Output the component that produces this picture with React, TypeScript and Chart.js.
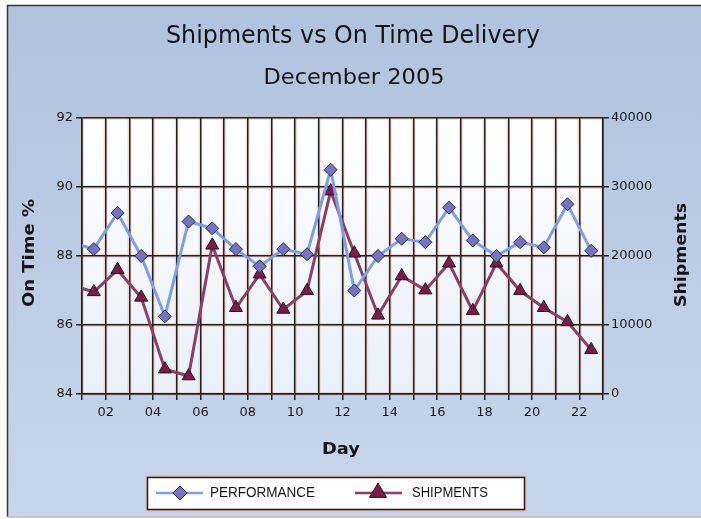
import React, { useEffect, useRef } from 'react';
import { Chart, registerables } from 'chart.js';

Chart.register(...registerables);

// Data (day 0 = 30 Nov, its segment enters from the left edge and is clipped)
const days = [0, 1, 2, 3, 4, 5, 6, 7, 8, 9, 10, 11, 12, 13, 14, 15, 16, 17, 18, 19, 20, 21, 22];
const performance = [88.4, 88.2, 89.25, 88.0, 86.25, 89.0, 88.8, 88.2, 87.7, 88.2, 88.05, 90.5, 87.0, 88.0, 88.5, 88.4, 89.4, 88.45, 88.0, 88.4, 88.25, 89.5, 88.15];
const shipments = [15800, 14800, 18000, 14000, 3600, 2600, 21550, 12500, 17350, 12250, 14950, 29400, 20400, 11400, 17100, 15050, 18950, 12050, 18950, 14950, 12500, 10450, 6400];
const labeledDays = [2, 4, 6, 8, 10, 12, 14, 16, 18, 20, 22];
const leftTicks = [84, 86, 88, 90, 92];
const rightTicks = [0, 10000, 20000, 30000, 40000];

const TITLE = 'Shipments vs On Time Delivery';
const SUBTITLE = 'December 2005';
const X_TITLE = 'Day';
const Y_TITLE = 'On Time %';
const Y2_TITLE = 'Shipments';
const SERIES_PERF = 'PERFORMANCE';
const SERIES_SHIP = 'SHIPMENTS';

const W = 701;
const H = 519;
const GRID = '#1c2222';
const BLUE_LINE = '#7f9fe4';
const DIAMOND = '#7673bf';
const MAROON_LINE = '#8b3f66';
const TRIANGLE = '#781c4a';

function fitText(ctx: CanvasRenderingContext2D, text: string, x: number, y: number, font: string, width: number, align: CanvasTextAlign = 'center', rot = 0, color = '#151515') {
  ctx.save();
  ctx.font = font;
  const w = ctx.measureText(text).width;
  ctx.translate(x, y);
  ctx.rotate(rot);
  ctx.scale(width / w, 1);
  ctx.textAlign = align;
  ctx.textBaseline = 'middle';
  ctx.fillStyle = color;
  ctx.fillText(text, 0, 0);
  ctx.restore();
}

function drawDiamond(ctx: CanvasRenderingContext2D, x: number, y: number, r: number) {
  ctx.beginPath();
  ctx.moveTo(x, y - r);
  ctx.lineTo(x + r, y);
  ctx.lineTo(x, y + r);
  ctx.lineTo(x - r, y);
  ctx.closePath();
  ctx.fillStyle = DIAMOND;
  ctx.fill();
  ctx.strokeStyle = '#2a2a48';
  ctx.lineWidth = 1;
  ctx.stroke();
}

function drawTriangle(ctx: CanvasRenderingContext2D, x: number, y: number, r: number) {
  ctx.beginPath();
  ctx.moveTo(x, y - r);
  ctx.lineTo(x + r * 0.95, y + r * 0.6);
  ctx.lineTo(x - r * 0.95, y + r * 0.6);
  ctx.closePath();
  ctx.fillStyle = TRIANGLE;
  ctx.fill();
  ctx.strokeStyle = '#2a0f1e';
  ctx.lineWidth = 1;
  ctx.stroke();
}

const decorPlugin = {
  id: 'decor',
  beforeDraw(chart: any) {
    const ctx: CanvasRenderingContext2D = chart.ctx;
    const { left, right, top, bottom } = chart.chartArea;
    ctx.save();
    ctx.fillStyle = '#ffffff';
    ctx.fillRect(0, 0, W, H);
    const g = ctx.createLinearGradient(0, 5, 0, 517);
    g.addColorStop(0, '#b0c3de');
    g.addColorStop(1, '#c7d6ea');
    ctx.fillStyle = g;
    ctx.fillRect(7, 5, W - 7, 512);
    ctx.strokeStyle = '#3a3434';
    ctx.lineWidth = 1.5;
    ctx.beginPath();
    ctx.moveTo(7.5, 517);
    ctx.lineTo(7.5, 5.5);
    ctx.lineTo(W, 5.5);
    ctx.stroke();
    ctx.strokeStyle = '#d6aeb0';
    ctx.beginPath();
    ctx.moveTo(7, 517);
    ctx.lineTo(W, 517);
    ctx.stroke();

    const pg = ctx.createLinearGradient(0, top, 0, bottom);
    pg.addColorStop(0, '#ffffff');
    pg.addColorStop(1, '#eaf0f8');
    ctx.fillStyle = pg;
    ctx.fillRect(left, top, right - left, bottom - top);

    // soft pink halo around grid lines
    ctx.strokeStyle = 'rgba(236,180,170,0.45)';
    ctx.lineWidth = 4;
    const xs = chart.scales.x;
    xs.ticks.forEach((t: any) => {
      const px = xs.getPixelForValue(t.value);
      ctx.beginPath();
      ctx.moveTo(px, top);
      ctx.lineTo(px, bottom);
      ctx.stroke();
    });
    const ys = chart.scales.y;
    ys.ticks.forEach((t: any) => {
      const py = ys.getPixelForValue(t.value);
      ctx.beginPath();
      ctx.moveTo(left, py);
      ctx.lineTo(right, py);
      ctx.stroke();
    });
    ctx.restore();
  },
  afterDraw(chart: any) {
    const ctx: CanvasRenderingContext2D = chart.ctx;
    ctx.save();
    fitText(ctx, TITLE, 353, 36, '25px "DejaVu Sans"', 374);
    fitText(ctx, SUBTITLE, 354, 79, '21px "DejaVu Sans"', 181);
    fitText(ctx, X_TITLE, 341, 450, 'bold 16px "DejaVu Sans"', 38);
    fitText(ctx, Y_TITLE, 30, 253, 'bold 16px "DejaVu Sans"', 108, 'center', -Math.PI / 2);
    fitText(ctx, Y2_TITLE, 682, 255, 'bold 16px "DejaVu Sans"', 104, 'center', -Math.PI / 2);

    // legend
    ctx.strokeStyle = 'rgba(236,180,170,0.8)';
    ctx.lineWidth = 4;
    ctx.strokeRect(147.5, 477.5, 377, 32);
    ctx.fillStyle = '#ffffff';
    ctx.fillRect(147.5, 477.5, 377, 32);
    ctx.strokeStyle = '#1e1e1e';
    ctx.lineWidth = 1.5;
    ctx.strokeRect(147.5, 477.5, 377, 32);
    const ly = 493;
    ctx.lineWidth = 2.5;
    ctx.strokeStyle = BLUE_LINE;
    ctx.beginPath();
    ctx.moveTo(156, ly);
    ctx.lineTo(203, ly);
    ctx.stroke();
    drawDiamond(ctx, 180, ly, 7);
    fitText(ctx, SERIES_PERF, 210, ly, '15px "Liberation Sans"', 105, 'left');
    ctx.lineWidth = 2.5;
    ctx.strokeStyle = MAROON_LINE;
    ctx.beginPath();
    ctx.moveTo(355, ly);
    ctx.lineTo(402, ly);
    ctx.stroke();
    drawTriangle(ctx, 378, ly - 1, 9);
    fitText(ctx, SERIES_SHIP, 412, ly, '15px "Liberation Sans"', 76, 'left');
    ctx.restore();
  },
};

export default function App() {
  const ref = useRef<HTMLCanvasElement | null>(null);
  useEffect(() => {
    if (!ref.current) return;
    const tickFont = { family: '"DejaVu Sans"', size: 13 };
    const chart = new Chart(ref.current, {
      type: 'line',
      data: {
        datasets: [
          {
            label: SERIES_PERF,
            data: days.map((d, i) => ({ x: d + 0.5, y: performance[i] })),
            yAxisID: 'y',
            borderColor: BLUE_LINE,
            borderWidth: 3,
            pointStyle: 'rectRot',
            pointRadius: 6.5,
            pointBackgroundColor: DIAMOND,
            pointBorderColor: '#2a2a48',
            pointBorderWidth: 1,
            tension: 0,
          },
          {
            label: SERIES_SHIP,
            data: days.map((d, i) => ({ x: d + 0.5, y: shipments[i] })),
            yAxisID: 'y2',
            borderColor: MAROON_LINE,
            borderWidth: 3,
            pointStyle: 'triangle',
            pointRadius: 7.5,
            pointBackgroundColor: TRIANGLE,
            pointBorderColor: '#2a0f1e',
            pointBorderWidth: 1,
            tension: 0,
          },
        ],
      },
      options: {
        responsive: false,
        animation: false,
        events: [],
        layout: { padding: { top: 118, left: 0, right: 0, bottom: 0 } },
        plugins: { legend: { display: false }, title: { display: false }, tooltip: { enabled: false } },
        scales: {
          x: {
            type: 'linear',
            position: 'bottom',
            min: 1,
            max: 23,
            afterFit: (s: any) => { s.height = 125; },
            afterBuildTicks: (s: any) => {
              const t = [];
              for (let v = 1; v <= 23; v++) t.push({ value: v });
              s.ticks = t;
            },
            ticks: {
              autoSkip: false,
              maxRotation: 0,
              padding: 5,
              font: tickFont,
              color: '#1a1a1a',
              callback: (v: any) => (labeledDays.includes(v) ? String(v).padStart(2, '0') : ''),
            },
            grid: { color: GRID, lineWidth: 1.5, tickLength: 6 },
            border: { color: GRID, width: 1.5 },
          },
          y: {
            position: 'left',
            min: 84,
            max: 92,
            afterFit: (s: any) => { s.width = 82; },
            afterBuildTicks: (s: any) => { s.ticks = leftTicks.map((v) => ({ value: v })); },
            ticks: { padding: 3, font: tickFont, color: '#1a1a1a', callback: (v: any) => String(v) },
            grid: { color: GRID, lineWidth: 1.5, tickLength: 6 },
            border: { color: GRID, width: 1.5 },
          },
          y2: {
            position: 'right',
            min: 0,
            max: 40000,
            afterFit: (s: any) => { s.width = 98; },
            afterBuildTicks: (s: any) => { s.ticks = rightTicks.map((v) => ({ value: v })); },
            ticks: { padding: 2, font: tickFont, color: '#1a1a1a', callback: (v: any) => String(v) },
            grid: { drawOnChartArea: false, color: GRID, lineWidth: 1.5, tickLength: 6 },
            border: { color: GRID, width: 1.5 },
          },
        },
      },
      plugins: [decorPlugin],
    });
    return () => chart.destroy();
  }, []);
  return (
    <div style={{ position: 'fixed', left: 0, top: 0, width: W, height: H }}>
      <canvas ref={ref} width={W} height={H} style={{ display: 'block' }} />
    </div>
  );
}
